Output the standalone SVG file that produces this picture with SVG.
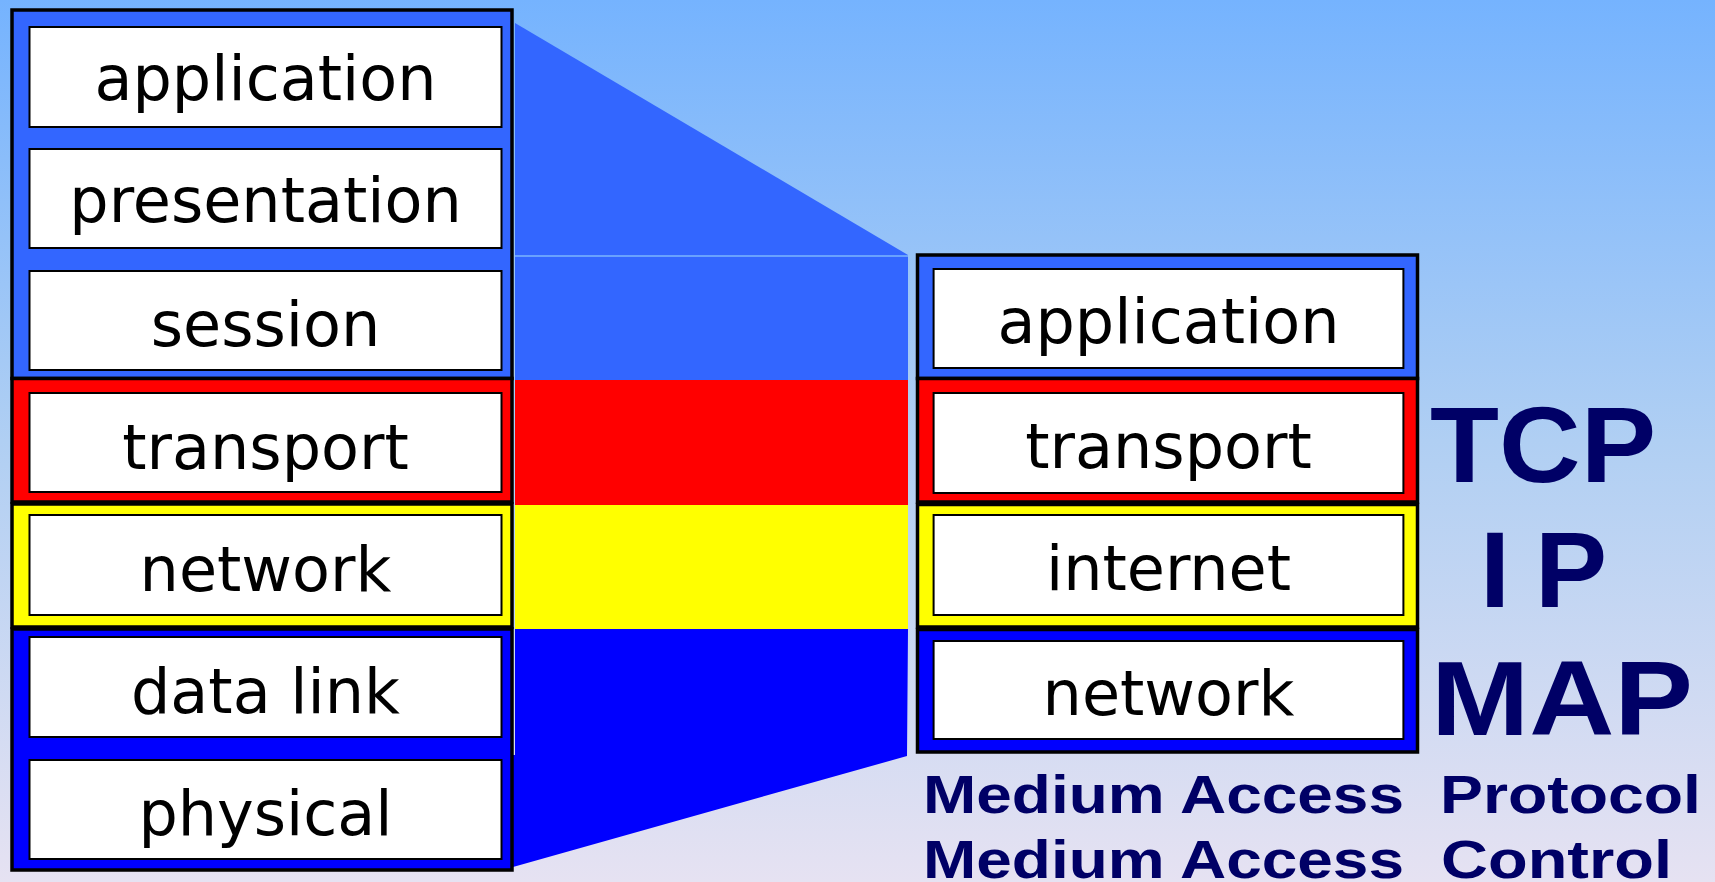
<svg xmlns="http://www.w3.org/2000/svg" width="1715" height="882" viewBox="0 0 1715 882">
  <defs>
    <linearGradient id="bg" x1="0" y1="0" x2="0" y2="1">
      <stop offset="0" stop-color="#75B3FE"/>
      <stop offset="0.5" stop-color="#B0CFF3"/>
      <stop offset="1" stop-color="#E6E2F2"/>
    </linearGradient>
  </defs>
  <style>
    .sec { stroke: #000; stroke-width: 3.5; }
    .lb { fill: #3366FF; }
    .rd { fill: #FF0000; }
    .yl { fill: #FFFF00; }
    .db { fill: #0000FF; }
    .box { fill: #FFFFFF; stroke: #000; stroke-width: 2; }
    .lbl { font-family: "DejaVu Sans", "Liberation Sans", sans-serif; font-size: 62px; fill: #000; text-anchor: middle; }
    .big { font-family: "Liberation Sans", Arial, sans-serif; font-weight: bold; fill: #000066; }
    .sub { font-family: "Liberation Sans", Arial, sans-serif; font-weight: bold; fill: #000066; font-size: 54px; }
  </style>

  <rect x="0" y="0" width="1715" height="882" fill="url(#bg)"/>

  <g id="connectors">
    <polygon class="lb" points="515,23 908,255 908,380 515,380"/>
    <line x1="515" y1="256" x2="908" y2="256" stroke="#7DB6FE" stroke-width="1.5"/>
    <rect class="rd" x="515" y="380" width="393" height="125"/>
    <rect class="yl" x="515" y="505" width="393" height="124"/>
    <polygon class="db" points="515,629 908,629 907,756 513,867 513,755 515,755"/>
  </g>

  <g id="osi-stack">
    <rect class="sec lb" x="12" y="10" width="500" height="368.5"/>
    <rect class="sec rd" x="12" y="378.5" width="500" height="123.5"/>
    <rect class="sec yl" x="12" y="504" width="500" height="123"/>
    <rect class="sec db" x="12" y="629" width="500" height="241"/>
  </g>

  <g id="osi-application">
    <rect class="box" x="29.5" y="27" width="472" height="100"/>
    <text class="lbl" x="265.5" y="100">application</text>
  </g>
  <g id="osi-presentation">
    <rect class="box" x="29.5" y="149" width="472" height="99"/>
    <text class="lbl" x="265.5" y="222">presentation</text>
  </g>
  <g id="osi-session">
    <rect class="box" x="29.5" y="271" width="472" height="99"/>
    <text class="lbl" x="265.5" y="346">session</text>
  </g>
  <g id="osi-transport">
    <rect class="box" x="29.5" y="393" width="472" height="99"/>
    <text class="lbl" x="265.5" y="469">transport</text>
  </g>
  <g id="osi-network">
    <rect class="box" x="29.5" y="515" width="472" height="100"/>
    <text class="lbl" x="265.5" y="591">network</text>
  </g>
  <g id="osi-datalink">
    <rect class="box" x="29.5" y="637" width="472" height="100"/>
    <text class="lbl" x="265.5" y="713">data link</text>
  </g>
  <g id="osi-physical">
    <rect class="box" x="29.5" y="760" width="472" height="99"/>
    <text class="lbl" x="265.5" y="835">physical</text>
  </g>

  <g id="tcpip-stack">
    <rect class="sec lb" x="917.5" y="255" width="500" height="123.5"/>
    <rect class="sec rd" x="917.5" y="378.5" width="500" height="123.5"/>
    <rect class="sec yl" x="917.5" y="504.5" width="500" height="122.5"/>
    <rect class="sec db" x="917.5" y="629.5" width="500" height="122.5"/>
  </g>

  <g id="tcpip-application">
    <rect class="box" x="933.6" y="269" width="469.8" height="99"/>
    <text class="lbl" x="1168.5" y="343">application</text>
  </g>
  <g id="tcpip-transport">
    <rect class="box" x="933.6" y="393" width="469.8" height="100"/>
    <text class="lbl" x="1168.5" y="468">transport</text>
  </g>
  <g id="tcpip-internet">
    <rect class="box" x="933.6" y="515" width="469.8" height="100"/>
    <text class="lbl" x="1168.5" y="590">internet</text>
  </g>
  <g id="tcpip-network">
    <rect class="box" x="933.6" y="641" width="469.8" height="98"/>
    <text class="lbl" x="1168.5" y="715">network</text>
  </g>

  <g id="labels">
    <text class="big" x="1430" y="482" font-size="108" textLength="226" lengthAdjust="spacingAndGlyphs">TCP</text>
    <text class="big" x="1480" y="607" font-size="108" letter-spacing="25">IP</text>
    <text class="big" x="1431" y="735" font-size="105" textLength="262" lengthAdjust="spacingAndGlyphs">MAP</text>
    <text class="sub" x="923" y="813" textLength="481" lengthAdjust="spacingAndGlyphs">Medium Access</text>
    <text class="sub" x="1440" y="813" textLength="261" lengthAdjust="spacingAndGlyphs">Protocol</text>
    <text class="sub" x="923" y="878" textLength="481" lengthAdjust="spacingAndGlyphs">Medium Access</text>
    <text class="sub" x="1441" y="878" textLength="231" lengthAdjust="spacingAndGlyphs">Control</text>
  </g>
</svg>
